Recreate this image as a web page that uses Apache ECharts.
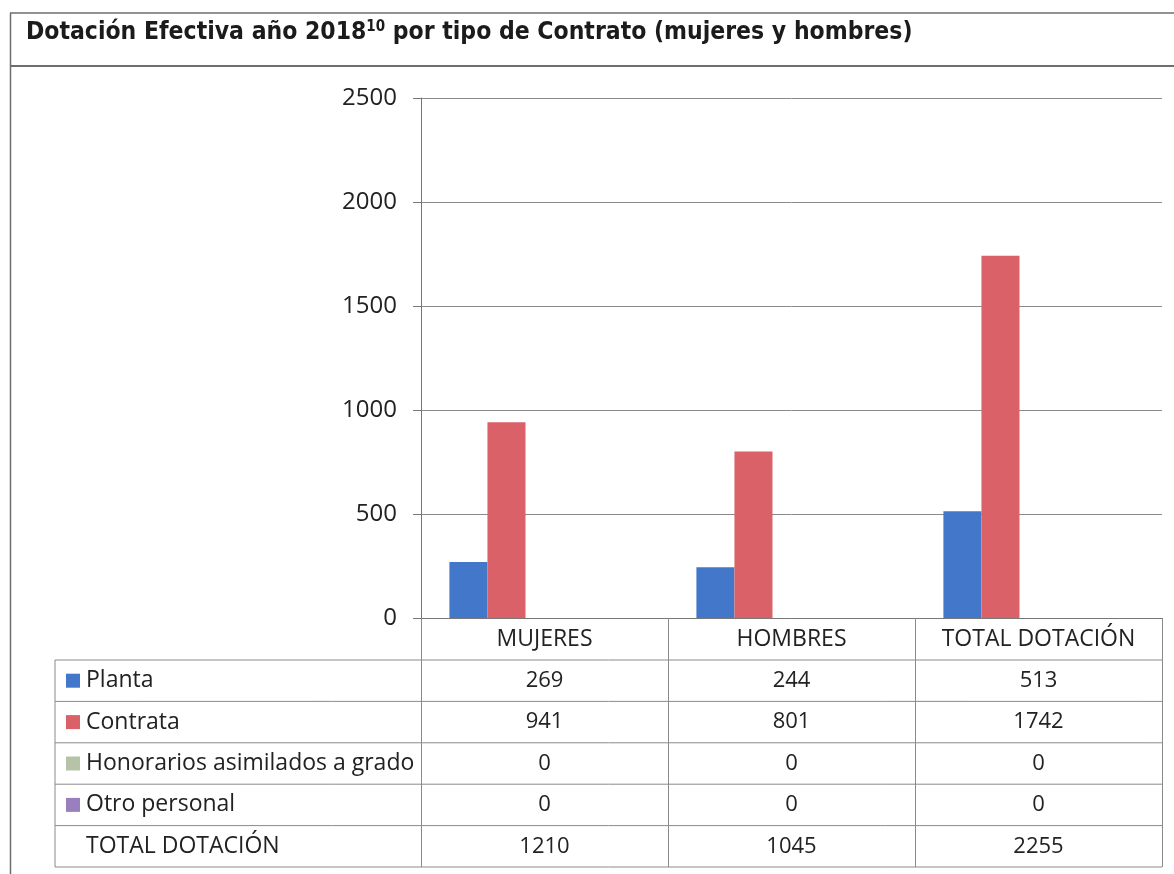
<!DOCTYPE html>
<html>
<head>
<meta charset="utf-8">
<title>Dotación Efectiva año 2018</title>
<script src="https://cdn.jsdelivr.net/npm/echarts@6/dist/echarts.min.js"></script>
<style>
    html, body { margin: 0; padding: 0; background: #fff; }
    #chart { width: 1174px; height: 874px; }
</style>
</head>
<body>
<div id="chart"></div>
<script>
// datos
const categories = ['MUJERES', 'HOMBRES', 'TOTAL DOTACIÓN'];
const planta = [269, 244, 513];
const contrata = [941, 801, 1742];
const honorarios = [0, 0, 0];
const otroPersonal = [0, 0, 0];
const totalDotacion = [1210, 1045, 2255];
const yMin = 0;
const yMax = 2500;
const yStep = 500;

const seriesNames = ['Planta', 'Contrata', 'Honorarios asimilados a grado', 'Otro personal', 'TOTAL DOTACIÓN'];
const seriesData = [planta, contrata, honorarios, otroPersonal, totalDotacion];
const seriesColors = ['#4277c9', '#db6169', '#b7c3a6', '#9a7fbf', 'rgba(0,0,0,0)'];

const FONT = '"Open Sans", Lato, sans-serif';
const TITLE_FONT = '"Liberation Sans Narrow", "DejaVu Sans Condensed", sans-serif';
const LINE = '#8a8a8a';
const TEXT = '#222';
const HEADER_H = 42;
const ROW_H = 41.4;
const TABLE_LEFT = 55;

const myChart = echarts.init(document.getElementById('chart'));

const option = {
    animation: false,
    backgroundColor: '#fff',
    title: {
        text: 'Dotación Efectiva año 2018{sup|10} por tipo de Contrato (mujeres y hombres)',
        left: 26,
        top: 19,
        padding: 0,
        textStyle: {
            fontFamily: TITLE_FONT,
            fontWeight: 'bold',
            fontSize: 24.5,
            color: '#1b1b1b',
            lineHeight: 28,
            rich: {
                sup: {
                    fontFamily: TITLE_FONT,
                    fontSize: 15,
                    color: '#1b1b1b',
                    padding: [0, 0, 11, 0]
                }
            }
        }
    },
    grid: {
        left: 421,
        right: 12,
        top: 98,
        bottom: 256,
        containLabel: false
    },
    xAxis: {
        type: 'category',
        data: categories,
        axisLine: { show: true, lineStyle: { color: '#777', width: 1 } },
        axisTick: {
            show: true,
            interval: 0,
            length: HEADER_H + ROW_H * 5,
            lineStyle: { color: LINE, width: 1 }
        },
        axisLabel: {
            interval: 0,
            margin: 10,
            fontFamily: FONT,
            fontSize: 23,
            color: TEXT
        },
        splitLine: { show: false }
    },
    yAxis: {
        type: 'value',
        min: yMin,
        max: yMax,
        interval: yStep,
        axisLine: { show: true, lineStyle: { color: '#777', width: 1 } },
        axisTick: { show: true, length: 8, lineStyle: { color: '#777' } },
        axisLabel: {
            margin: 24,
            fontFamily: FONT,
            fontSize: 24,
            color: TEXT,
            formatter: (v) => String(v)
        },
        splitLine: { show: true, lineStyle: { color: LINE, width: 1 } }
    },
    series: seriesNames.map((name, i) => ({
        name: name,
        type: 'bar',
        data: seriesData[i],
        barGap: '0%',
        barCategoryGap: '23%',
        silent: i === 4,
        itemStyle: { color: seriesColors[i] }
    }))
};

myChart.setOption(option);

// tabla de datos bajo el gráfico
const buildTable = () => {
    const c0 = myChart.convertToPixel({ xAxisIndex: 0 }, 0);
    const c1 = myChart.convertToPixel({ xAxisIndex: 0 }, 1);
    const band = c1 - c0;
    const plotLeft = c0 - band / 2;
    const plotRight = plotLeft + band * categories.length;
    const y0 = myChart.convertToPixel({ yAxisIndex: 0 }, 0);
    const top = y0 + HEADER_H;
    const els = [];

    // marco del título
    els.push({ type: 'line', shape: { x1: 10, y1: 13, x2: 1174, y2: 13 }, style: { stroke: '#6e6e6e', lineWidth: 1.5 } });
    els.push({ type: 'line', shape: { x1: 10, y1: 66, x2: 1174, y2: 66 }, style: { stroke: '#6e6e6e', lineWidth: 2 } });
    els.push({ type: 'line', shape: { x1: 10.5, y1: 13, x2: 10.5, y2: 874 }, style: { stroke: '#6e6e6e', lineWidth: 1.5 } });

    // líneas horizontales
    for (let r = 0; r <= seriesNames.length; r++) {
        const y = top + r * ROW_H;
        els.push({ type: 'line', shape: { x1: TABLE_LEFT, y1: y, x2: plotRight, y2: y }, style: { stroke: LINE, lineWidth: 1 } });
    }
    els.push({ type: 'line', shape: { x1: TABLE_LEFT, y1: top, x2: TABLE_LEFT, y2: top + ROW_H * seriesNames.length }, style: { stroke: LINE, lineWidth: 1 } });

    seriesNames.forEach((name, r) => {
        const yc = top + r * ROW_H + ROW_H / 2;
        if (r < 4) {
            els.push({ type: 'rect', shape: { x: 66, y: yc - 7, width: 14, height: 14 }, style: { fill: seriesColors[r] } });
        }
        els.push({
            type: 'text', x: 86, y: yc,
            style: { text: name, fill: TEXT, fontFamily: FONT, fontSize: 23, align: 'left', verticalAlign: 'middle' }
        });
        seriesData[r].forEach((v, c) => {
            els.push({
                type: 'text', x: myChart.convertToPixel({ xAxisIndex: 0 }, c), y: yc,
                style: { text: String(v), fill: TEXT, fontFamily: FONT, fontSize: 22, align: 'center', verticalAlign: 'middle' }
            });
        });
    });

    myChart.setOption({ graphic: { elements: els } });
};

buildTable();
</script>
</body>
</html>
